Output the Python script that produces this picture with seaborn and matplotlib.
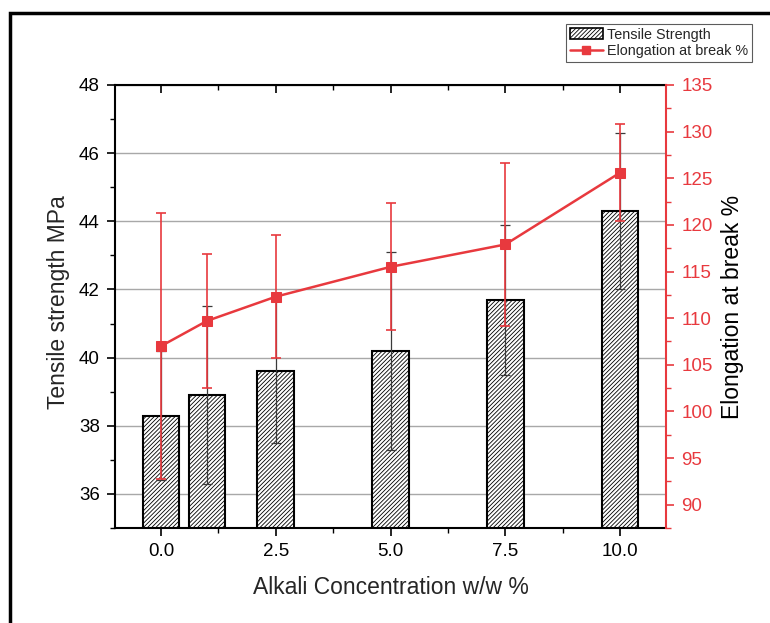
import numpy as np
import pandas as pd
import matplotlib
matplotlib.use("Agg")
import matplotlib.pyplot as plt
from matplotlib.patches import Rectangle, Patch
from matplotlib.lines import Line2D
from matplotlib.ticker import MultipleLocator
import seaborn as sns

# Alkali concentration (w/w %)
concentration = [0.0, 1.0, 2.5, 5.0, 7.5, 10.0]
# Tensile strength (MPa) and its standard deviation
tensile_strength = [38.3, 38.9, 39.6, 40.2, 41.7, 44.3]
tensile_err = [1.9, 2.6, 2.1, 2.9, 2.2, 2.3]
# Elongation at break (%) and its standard deviation
elongation = [107.0, 109.7, 112.3, 115.5, 117.9, 125.6]
elongation_err = [14.3, 7.2, 6.6, 6.8, 8.7, 5.2]
x_ticks = [0.0, 2.5, 5.0, 7.5, 10.0]

RED = "#e8393e"
HATCH = "////////"

sns.set_theme(style="white")
plt.rcParams["font.family"] = ["Liberation Sans", "DejaVu Sans"]
plt.rcParams["hatch.color"] = "#555555"
plt.rcParams["hatch.linewidth"] = 0.6

df = pd.DataFrame({"conc": concentration, "ts": tensile_strength,
                   "ts_err": tensile_err, "el": elongation, "el_err": elongation_err})

fig = plt.figure(figsize=(7.7, 6.23), dpi=100)
ax = fig.add_axes([0.1494, 0.1525, 0.7156, 0.7111])

sns.barplot(data=df, x="conc", y="ts", native_scale=True, width=0.8,
            color="white", edgecolor="black", linewidth=1.5, errorbar=None,
            ax=ax, zorder=2)
for p in ax.patches:
    p.set_hatch(HATCH)
    p.set_facecolor("white")
    p.set_edgecolor("black")

ax.errorbar(df["conc"], df["ts"], yerr=df["ts_err"], fmt="none",
            ecolor="#3a3a3a", elinewidth=0.9, capsize=3.5, capthick=0.9, zorder=3)

ax.set_xlim(-1, 11)
ax.set_ylim(35, 48)
ax.set_xticks(x_ticks)
ax.set_xticklabels([f"{v:.1f}" for v in x_ticks])
ax.xaxis.set_minor_locator(MultipleLocator(1.25))
ax.yaxis.set_major_locator(MultipleLocator(2))
ax.yaxis.set_minor_locator(MultipleLocator(1))
ax.grid(axis="y", which="major", color="#a8a8a8", linewidth=1.0, zorder=0)
ax.set_axisbelow(True)

for side in ["left", "bottom", "top"]:
    ax.spines[side].set_color("black")
    ax.spines[side].set_linewidth(1.5)
ax.spines["right"].set_visible(False)

ax.tick_params(axis="both", which="major", direction="out", length=6, width=1.2,
               labelsize=13.5, colors="black", pad=5)
ax.tick_params(axis="both", which="minor", direction="out", length=3.5, width=1.0, colors="black")
ax.tick_params(axis="x", which="both", bottom=True, top=False)
ax.tick_params(axis="y", which="both", left=True, right=False)

ax.set_xlabel("Alkali Concentration w/w %", fontsize=16.5, labelpad=11)
ax.set_ylabel("Tensile strength MPa", fontsize=16.5)
ax.yaxis.set_label_coords(-0.082, 0.51)

# inward ticks along the top edge
top = ax.twiny()
top.set_xlim(-1, 11)
top.set_xticks(x_ticks)
top.xaxis.set_minor_locator(MultipleLocator(1.25))
top.tick_params(axis="x", which="major", direction="in", length=6, width=1.2,
                top=True, bottom=False, labeltop=False, labelbottom=False, colors="black")
top.tick_params(axis="x", which="minor", direction="in", length=3.5, width=1.0,
                top=True, bottom=False, colors="black")
for s in top.spines.values():
    s.set_visible(False)
top.grid(False)

ax2 = ax.twinx()
sns.lineplot(data=df, x="conc", y="el", color=RED, marker="s", markersize=7,
             markeredgecolor=RED, linewidth=1.8, ax=ax2, zorder=5)
ax2.errorbar(df["conc"], df["el"], yerr=df["el_err"], fmt="none",
             ecolor=RED, elinewidth=1.2, capsize=3.5, capthick=1.2, zorder=4)
ax2.set_ylim(87.5, 135)
ax2.yaxis.set_major_locator(MultipleLocator(5))
ax2.yaxis.set_minor_locator(MultipleLocator(2.5))
ax2.set_xlim(-1, 11)
for side in ["left", "bottom", "top"]:
    ax2.spines[side].set_visible(False)
ax2.spines["right"].set_color(RED)
ax2.spines["right"].set_linewidth(1.5)
ax2.tick_params(axis="y", which="major", direction="out", length=6, width=1.2,
                colors=RED, labelsize=13.5, pad=5)
ax2.tick_params(axis="y", which="minor", direction="out", length=3.5, width=1.0, colors=RED)
ax2.tick_params(axis="y", which="both", right=True, left=False, labelright=True, labelleft=False)
ax2.tick_params(axis="x", which="both", bottom=False, top=False, labelbottom=False)
ax2.grid(False)
ax2.set_ylabel("Elongation at break %", fontsize=16.5, color="black", labelpad=6)

# legend above the plot area
handles = [
    Patch(facecolor="white", edgecolor="black", hatch=HATCH, linewidth=1.2, label="Tensile Strength"),
    Line2D([0], [0], color=RED, marker="s", markersize=6, linewidth=1.8, label="Elongation at break %"),
]
leg = fig.legend(handles=handles, loc="upper left", bbox_to_anchor=(566 / 770, 1 - 24 / 623),
                 fontsize=10.4, frameon=True, fancybox=False, borderpad=0.25,
                 handlelength=2.3, handletextpad=0.3, labelspacing=0.2, borderaxespad=0)
leg.get_frame().set_edgecolor("#333333")
leg.get_frame().set_linewidth(0.8)

# outer frame
fig.patches.append(Rectangle((10 / 770, -0.05), 1.2, 1 - 13 / 623 + 0.05,
                             transform=fig.transFigure, fill=False,
                             edgecolor="black", linewidth=2.5, zorder=10))

fig.savefig("out.png", dpi=100)
